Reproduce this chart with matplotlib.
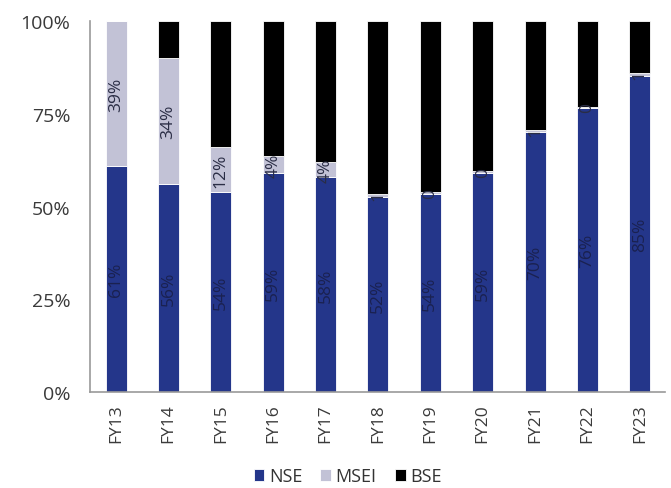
""" Exchange-wise market share, FY13-FY23 """
import matplotlib
matplotlib.use('Agg')
import matplotlib.pyplot as plt
import numpy as np

years = ['FY13', 'FY14', 'FY15', 'FY16', 'FY17', 'FY18',
         'FY19', 'FY20', 'FY21', 'FY22', 'FY23']
nse = [61, 56, 54, 59, 58, 52.5, 53.5, 59, 70, 76.5, 85.3]
msei = [39, 34, 12, 4.5, 4, 1, 0.4, 0.5, 0.6, 0.4, 0.7]
bse = [0, 10, 34, 36.5, 38, 46.5, 46.1, 40.5, 29.4, 23.1, 14]
nse_lbl = ['61%', '56%', '54%', '59%', '58%', '52%', '54%', '59%', '70%', '76%', '85%']
msei_lbl = ['39%', '34%', '12%', '4%', '4%', '1', '0', '0', '1', '0', '1']

plt.rcParams['font.family'] = ['Open Sans', 'DejaVu Sans']

fig = plt.figure(figsize=(6.71, 4.89), dpi=100)
ax = fig.add_axes([0.134, 0.196, 0.857, 0.759])

x = np.arange(len(years))
w = 0.4
nse_col = '#24368a'
msei_col = '#c2c2d6'
bse_col = '#000000'

b1 = ax.bar(x, nse, w, color=nse_col, edgecolor='white', linewidth=0.6, label='NSE')
b2 = ax.bar(x, msei, w, bottom=nse, color=msei_col, edgecolor='white',
            linewidth=0.6, label='MSEI')
bottom2 = np.array(nse) + np.array(msei)
b3 = ax.bar(x, bse, w, bottom=bottom2, color=bse_col, edgecolor='white',
            linewidth=0.6, label='BSE')

# labels inside segments, rotated
for i in range(len(years)):
    ax.text(x[i], nse[i] / 2, nse_lbl[i], rotation=90, ha='center', va='center',
            fontsize=12.5, color='#1a2150')
    ax.text(x[i], nse[i] + msei[i] / 2, msei_lbl[i], rotation=90, ha='center',
            va='center', fontsize=12.5, color='#2a2d45')

ax.set_xlim(-0.5, 10.48)
ax.set_ylim(0, 100)
ax.set_yticks([0, 25, 50, 75, 100])
ax.set_yticklabels(['0%', '25%', '50%', '75%', '100%'])
ax.set_xticks(x)
ax.set_xticklabels(years, rotation=90)
ax.tick_params(axis='both', length=0, colors='#3a3a3a')
ax.tick_params(axis='y', labelsize=14, pad=14)
ax.tick_params(axis='x', labelsize=12.5, pad=8)

for s in ['top', 'right']:
    ax.spines[s].set_visible(False)
for s in ['left', 'bottom']:
    ax.spines[s].set_color('#999999')
    ax.spines[s].set_linewidth(1.2)

fig.legend(handles=[b1, b2, b3], labels=['NSE', 'MSEI', 'BSE'], loc='center',
           bbox_to_anchor=(0.518, 0.024), ncol=3, frameon=False, fontsize=13,
           handlelength=0.6, handleheight=0.6, handletextpad=0.25, columnspacing=1.0,
           labelcolor='#333333', borderpad=0)

plt.savefig('out.png', dpi=100)
